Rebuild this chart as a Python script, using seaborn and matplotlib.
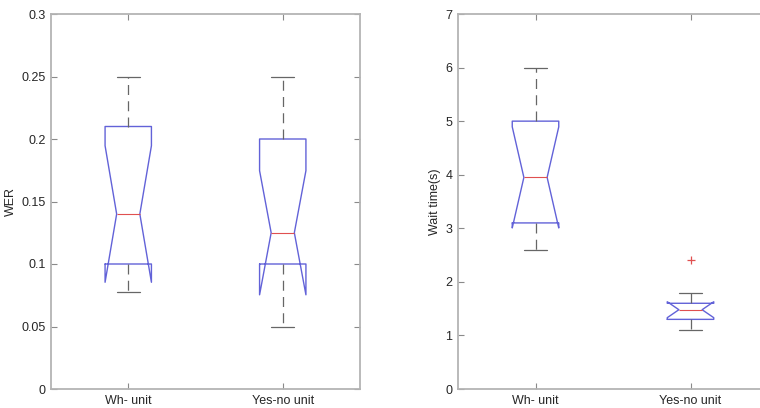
import numpy as np
import pandas as pd
import seaborn as sns
import matplotlib.pyplot as plt
from matplotlib.ticker import FuncFormatter

units = ["Wh- unit", "Yes-no unit"]

# per-utterance observations (n = 10 per unit), read from the box summaries
wer_wh = [0.078, 0.09, 0.10, 0.10, 0.13, 0.15, 0.21, 0.21, 0.23, 0.25]
wer_yesno = [0.05, 0.08, 0.10, 0.10, 0.12, 0.13, 0.20, 0.20, 0.22, 0.25]
wait_wh = [2.6, 2.9, 3.1, 3.1, 3.8, 4.1, 5.0, 5.0, 5.5, 6.0]
wait_yesno = [1.1, 1.2, 1.3, 1.3, 1.48, 1.48, 1.6, 1.6, 1.8, 2.4]

wer_ticks = [0, 0.05, 0.1, 0.15, 0.2, 0.25, 0.3]
wait_ticks = [0, 1, 2, 3, 4, 5, 6, 7]

df_wer = pd.DataFrame({"unit": [units[0]] * len(wer_wh) + [units[1]] * len(wer_yesno),
                       "val": wer_wh + wer_yesno})
df_wait = pd.DataFrame({"unit": [units[0]] * len(wait_wh) + [units[1]] * len(wait_yesno),
                        "val": wait_wh + wait_yesno})

sns.set_style("white")
plt.rcParams["font.family"] = ["Liberation Sans", "DejaVu Sans"]

blue = "#6262d8"
red = "#e05050"
dark = "#666666"
spine = "#b4b4b4"

box_kw = dict(notch=True, fill=False, width=0.3, whis=1.5,
              boxprops={"color": blue, "linewidth": 1.0},
              medianprops={"color": red, "linewidth": 0.8},
              whiskerprops={"color": dark, "linewidth": 0.9, "linestyle": (0, (8, 5))},
              capprops={"color": dark, "linewidth": 0.9},
              flierprops={"marker": "+", "markeredgecolor": red, "markersize": 6,
                          "markeredgewidth": 0.9})

fig = plt.figure(figsize=(7.6, 4.08), dpi=100)
ax1 = fig.add_axes([51 / 760, 19 / 408, 309 / 760, 375 / 408])
ax2 = fig.add_axes([458 / 760, 19 / 408, 310 / 760, 375 / 408])

sns.boxplot(data=df_wer, x="unit", y="val", order=units, ax=ax1, **box_kw)
sns.boxplot(data=df_wait, x="unit", y="val", order=units, ax=ax2, **box_kw)

for ax, ticks, lab in [(ax1, wer_ticks, "WER"), (ax2, wait_ticks, "Wait time(s)")]:
    ax.set_xlim(-0.5, 1.5)
    ax.set_ylim(ticks[0], ticks[-1])
    ax.set_yticks(ticks)
    ax.yaxis.set_major_formatter(FuncFormatter(lambda v, p: "%g" % v))
    ax.set_xlabel("")
    ax.set_ylabel(lab, fontsize=9, color="#262626", labelpad=3)
    ax.tick_params(direction="in", length=4, width=0.8, color="#8a8a8a",
                   labelsize=9, labelcolor="#262626",
                   top=True, right=True, bottom=True, left=True, pad=4)
    for s in ax.spines.values():
        s.set_visible(True)
        s.set_color(spine)
        s.set_linewidth(1.3)

fig.savefig("out.png", dpi=100)
